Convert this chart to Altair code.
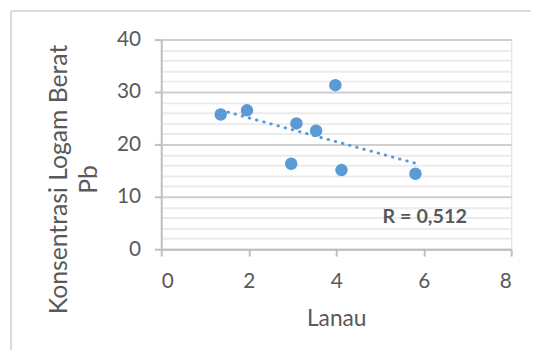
import altair as alt
import pandas as pd

# data
lanau = [1.36, 1.96, 2.97, 3.09, 3.54, 3.98, 4.12, 5.81]
pb = [25.7, 26.5, 16.3, 24.0, 22.6, 31.3, 15.1, 14.4]
x_ticks = [0, 2, 4, 6, 8]
y_ticks = list(range(0, 41, 2))
r_text = ["R = 0,512"]
r_x = [5.06]
r_y = [6.2]

W, H = 354, 212
BLUE = "#5B9BD5"
GRAY_TXT = "#595959"
FONT = "Lato"

df = pd.DataFrame({"Lanau": lanau, "Pb": pb})
lab = pd.DataFrame({"t": r_text, "x": r_x, "y": r_y})
one = pd.DataFrame({"a": [0]})

xscale = alt.Scale(domain=[0, 8], nice=False)
yscale = alt.Scale(domain=[0, 40], nice=False)

major = "datum.value % 10 === 0"

xaxis = alt.Axis(
    values=x_ticks, tickCount=len(x_ticks), title="Lanau", grid=False, labelOverlap=False,
    domainColor="#bfbfbf", domainWidth=2,
    tickColor="#bfbfbf", tickWidth=2, tickSize=7,
    labelFont=FONT, labelFontSize=21, labelColor=GRAY_TXT, labelPadding=15,
    titleFont=FONT, titleFontSize=23, titleFontWeight="normal", titleColor=GRAY_TXT,
    titleBaseline="alphabetic", titleY=77,
)
yaxis = alt.Axis(
    values=y_ticks, tickCount=len(y_ticks), title=["Konsentrasi Logam Berat", "Pb"],
    labelExpr=f"{major} ? datum.label : ''", labelOverlap=False,
    grid=True, gridWidth=2,
    gridColor={"expr": f"{major} ? '#cfcfcf' : '#ebebeb'"},
    domainColor="#bfbfbf", domainWidth=2,
    tickColor="#bfbfbf", tickWidth=2, tickSize=7,
    tickOpacity={"expr": f"{major} ? 1 : 0"},
    labelFont=FONT, labelFontSize=21, labelColor=GRAY_TXT, labelPadding=14,
    titleFont=FONT, titleFontSize=25, titleFontWeight="normal", titleColor=GRAY_TXT,
    titleAngle=270, titleBaseline="middle", titleLineHeight=31,
    titleX=-104, titleY=141,
)

base = alt.Chart(df)

points = base.mark_circle(size=160, color=BLUE, opacity=1).encode(
    x=alt.X("Lanau:Q", scale=xscale, axis=xaxis),
    y=alt.Y("Pb:Q", scale=yscale, axis=yaxis),
)

trend = base.transform_regression("Lanau", "Pb").mark_line(
    color=BLUE, strokeWidth=3, strokeDash=[0.5, 7], strokeCap="round"
).encode(x=alt.X("Lanau:Q", scale=xscale), y=alt.Y("Pb:Q", scale=yscale))

label = alt.Chart(lab).mark_text(
    font=FONT, fontSize=20, fontWeight="bold", color=GRAY_TXT,
    align="left", baseline="middle"
).encode(x=alt.X("x:Q", scale=xscale), y=alt.Y("y:Q", scale=yscale), text="t:N")

border_v = alt.Chart(one).mark_rule(color="#d9d9d9", strokeWidth=2).encode(
    x=alt.value(-152), y=alt.value(-29), y2=alt.value(H + 110)
)
border_h = alt.Chart(one).mark_rule(color="#d9d9d9", strokeWidth=2).encode(
    x=alt.value(-152), x2=alt.value(W + 30), y=alt.value(-29)
)

chart = alt.layer(border_v, border_h, points, trend, label).properties(
    width=W, height=H,
    padding={"left": 155, "top": 30, "right": 20, "bottom": 100},
    autosize=alt.AutoSizeParams(type="none"),
).configure_view(strokeWidth=0).configure(background="white")

chart.save("out.html", embed_options={"renderer": "svg", "actions": False})
